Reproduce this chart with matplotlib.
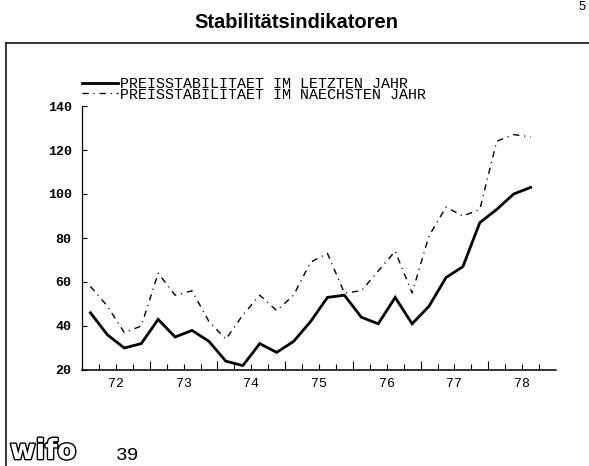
import matplotlib
matplotlib.use('Agg')
import matplotlib.pyplot as plt
from matplotlib.lines import Line2D
import matplotlib.patheffects as pe

plt.rcParams['lines.scale_dashes'] = False

W, H = 589, 466
DPI = 100

# ---- data (quarterly, 1972 Q1 .. 1978 Q3) ----
years = [1972, 1973, 1974, 1975, 1976, 1977, 1978]
year_labels = ['72', '73', '74', '75', '76', '77', '78']
n_quarters = 27
letzten = [46, 36, 30, 32, 43, 35, 38, 33, 24, 22, 32, 28, 33, 42, 53, 54,
           44, 41, 53, 41, 49, 62, 67, 87, 93, 100, 103]
naechsten = [58, 49, 37, 40, 64, 54, 56, 42, 34, 45, 54, 47, 54, 69, 73, 55,
             56, 65, 74, 55, 81, 94, 90, 93, 124, 127, 126]
y_ticks = [20, 40, 60, 80, 100, 120, 140]
label_letzten = 'PREISSTABILITAET IM LETZTEN JAHR'
label_naechsten = 'PREISSTABILITAET IM NAECHSTEN JAHR'
title = 'Stabilitätsindikatoren'

# quarter mid positions on a continuous time axis
xq = [years[0] + (i + 0.5) / 4.0 for i in range(n_quarters)]


def fx(px):
    return px / W


def fy(py):
    return 1 - py / H


fig = plt.figure(figsize=(W / DPI, H / DPI), dpi=DPI)
fig.patch.set_facecolor('white')

ax = fig.add_axes([fx(82), 96 / H, 474 / W, 286 / H])
ax.set_xlim(1972, 1979)
ax.set_ylim(20, 150)
ax.patch.set_alpha(0)

for s in ['top', 'right']:
    ax.spines[s].set_visible(False)
ax.spines['left'].set_bounds(20, 140)
ax.spines['bottom'].set_bounds(1972, 1979)
ax.spines['left'].set_linewidth(0.9)
ax.spines['bottom'].set_linewidth(1.1)

# x ticks: major at year boundaries, minor at quarter boundaries, labels mid-year
ax.set_xticks(years[1:])
ax.set_xticklabels([''] * len(years[1:]))
minor_pos = []
minor_lab = []
for y, lab in zip(years, year_labels):
    for q in (0.25, 0.5, 0.75):
        minor_pos.append(y + q)
        minor_lab.append(lab if q == 0.5 else '')
ax.set_xticks(minor_pos, minor=True)
ax.set_xticklabels(minor_lab, minor=True, family='Liberation Mono', fontsize=9.5)
ax.tick_params(axis='x', which='major', direction='in', length=6.5, width=0.8)
ax.tick_params(axis='x', which='minor', direction='in', length=4, width=0.8, pad=5.5)

ax.set_yticks(y_ticks)
ax.set_yticklabels([str(v) for v in y_ticks], family='Liberation Mono',
                   fontsize=9.5, fontweight='bold')
ax.tick_params(axis='y', direction='in', length=3.6, width=0.8, pad=7.5)

ax.plot(xq, letzten, color='black', lw=2.0, solid_joinstyle='miter')
ax.plot(xq, naechsten, color='black', lw=1.0, linestyle=(0, (4.5, 3.5, 0.8, 3.5)))

# legend (manual, plotter style)
fig.add_artist(Line2D([fx(82), fx(118)], [fy(83.3), fy(83.3)], color='black', lw=2.0))
fig.add_artist(Line2D([fx(82), fx(118)], [fy(92.7), fy(92.7)], color='black', lw=1.0,
                      linestyle=(0, (4.5, 3.5, 0.8, 3.5))))
fig.text(fx(120), fy(77.5), label_letzten + '\n' + label_naechsten,
         family='Liberation Mono', fontsize=10.8, linespacing=0.66,
         ha='left', va='top')

# title
fig.text(fx(296), fy(22), title, family='Liberation Sans', fontweight='bold',
         fontsize=14.5, ha='center', va='center')

# page frame
fig.add_artist(Line2D([fx(5.5), fx(589)], [fy(42.5), fy(42.5)], color='black', lw=1.1))
fig.add_artist(Line2D([fx(5.5), fx(5.5)], [fy(42.5), fy(466)], color='black', lw=1.1))

# page number fragment top right
fig.text(fx(582), fy(7), '5', family='Liberation Sans', fontsize=9, ha='center', va='center')

# logo and page number
fig.text(fx(10), fy(459), 'wifo', family='DejaVu Sans', fontweight='bold', fontsize=20,
         color='white', ha='left', va='baseline',
         path_effects=[pe.withStroke(linewidth=2.0, foreground='black')])
fig.text(fx(116), fy(460), '39', family='Liberation Mono', fontsize=14,
         ha='left', va='baseline')

fig.savefig('out.png', dpi=DPI, facecolor='white')
